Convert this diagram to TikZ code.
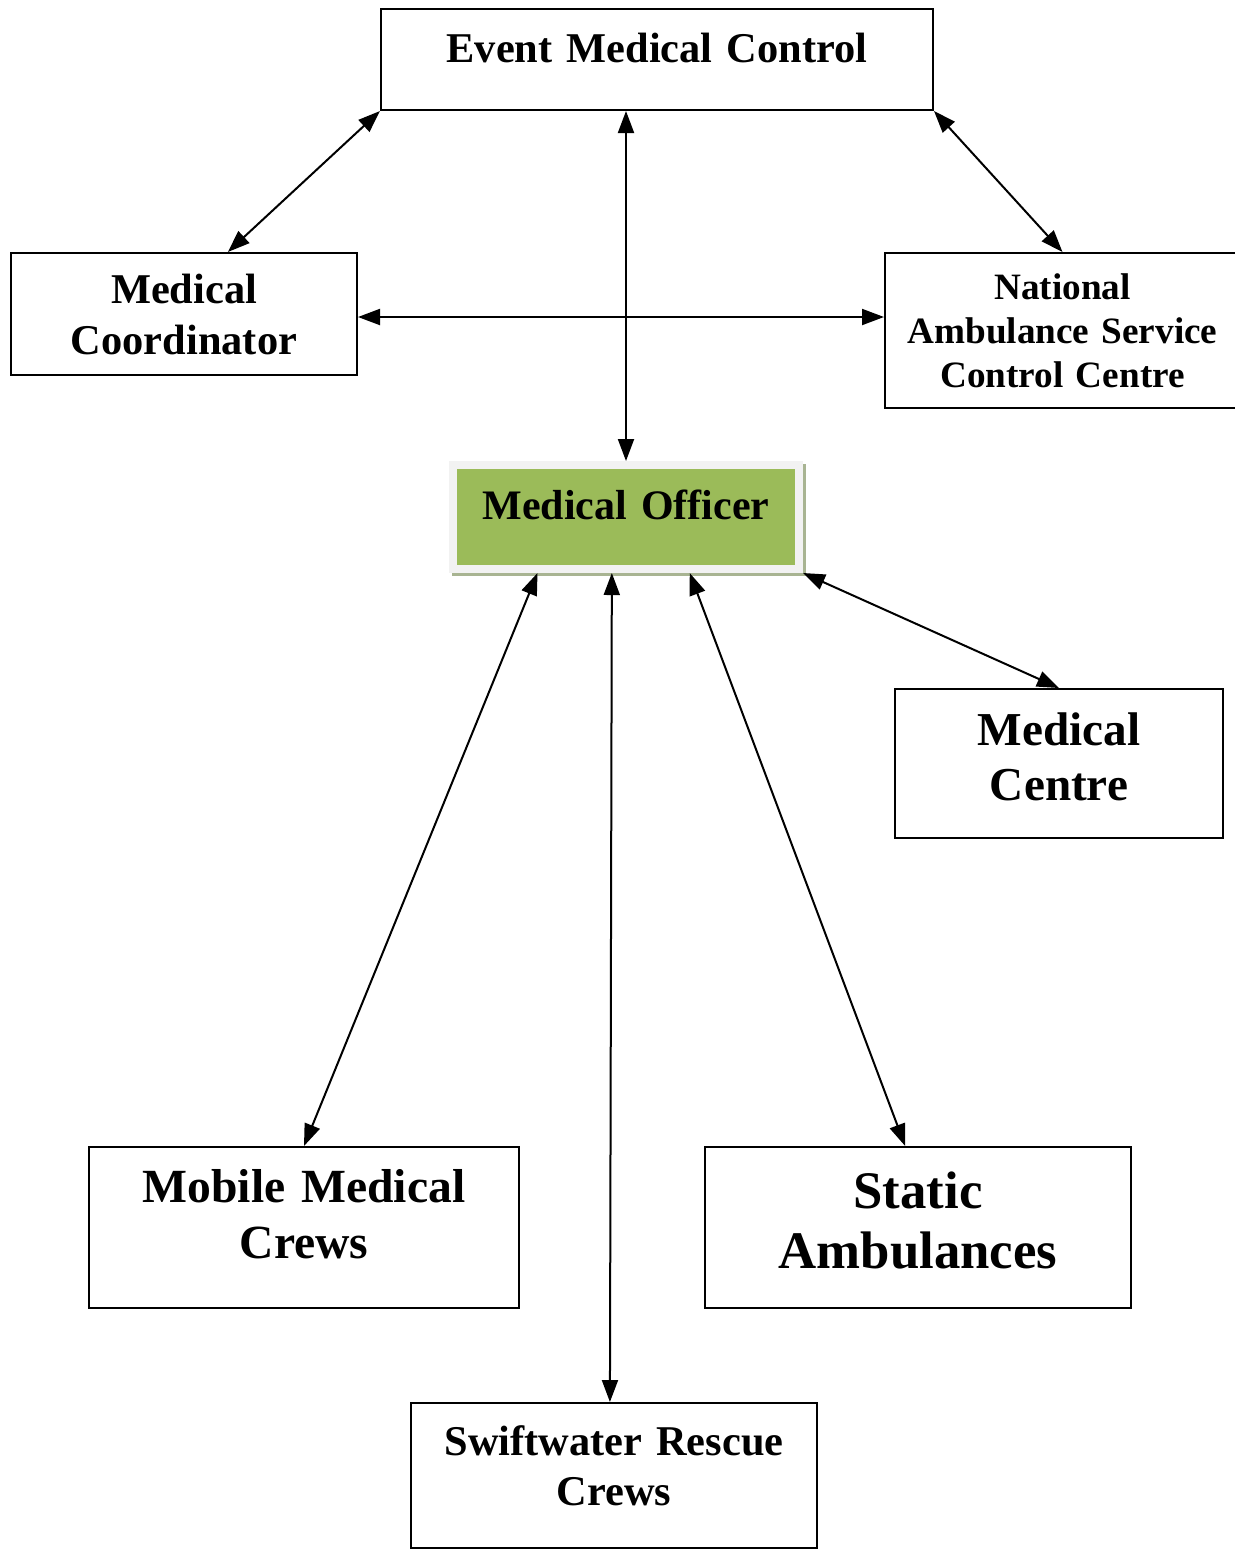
\documentclass[tikz,border=0pt]{standalone}
\usepackage{fontspec}
\setmainfont{Liberation Serif}[WordSpace=0.8]
\usetikzlibrary{arrows.meta,calc,shadows}
\definecolor{mogreen}{RGB}{155,187,89}
\definecolor{moframe}{RGB}{242,242,242}
\definecolor{moshadow}{RGB}{168,180,146}
\newcommand{\textdrop}[1]{\rule[-#1]{0pt}{#1}}
\begin{document}
\begin{tikzpicture}[x=0.5pt, y=-0.5pt, line width=1pt,
  every node/.style={draw, inner sep=0pt, align=center},
  link/.style={<->, >={Triangle[length=11pt,width=8pt]}}]
\useasboundingbox (0,0) rectangle (1235,1549);
\node (emc) at (657,59.5) [minimum width=276pt, minimum height=50.5pt, text width=270pt, font=\bfseries\fontsize{21.2}{25.5}\selectfont] {Event Medical Control\textdrop{11.8pt}};
\node (coord) at (184,314) [minimum width=173pt, minimum height=61pt, text width=168pt, font=\bfseries\fontsize{21.2}{25.5}\selectfont] {Medical\\Coordinator};
\node (nas) at (1062.5,330.5) [minimum width=177.5pt, minimum height=77.5pt, text width=172pt, font=\bfseries\fontsize{18.6}{22}\selectfont] {National\\Ambulance Service\\Control Centre};
\node (mo) at (626,517) [fill=mogreen, draw=moframe, line width=4pt, minimum width=173pt, minimum height=52pt, text width=165pt, font=\bfseries\fontsize{21}{25}\selectfont,
  drop shadow={shadow xshift=1.5pt, shadow yshift=-1.5pt, opacity=1, fill=moshadow, draw=moshadow, line width=4pt}] {Medical Officer\textdrop{12.3pt}};
\node (mcen) at (1059,763.5) [minimum width=164pt, minimum height=74.5pt, text width=158pt, font=\bfseries\fontsize{23.6}{27.5}\selectfont] {Medical\\Centre\textdrop{7pt}};
\node (mob) at (304,1227.5) [minimum width=215pt, minimum height=80.5pt, text width=208pt, font=\bfseries\fontsize{23.8}{28}\selectfont] {Mobile Medical\\Crews\textdrop{13.7pt}};
\node (stat) at (918,1227.5) [minimum width=213pt, minimum height=80.5pt, text width=206pt, font=\bfseries\fontsize{26.4}{30}\selectfont] {Static\\Ambulances\textdrop{7.5pt}};
\node (swift) at (614,1475.5) [minimum width=203pt, minimum height=72.5pt, text width=197pt, font=\bfseries\fontsize{21.2}{25}\selectfont] {Swiftwater Rescue\\Crews\textdrop{9.9pt}};
\draw[link] (emc.south west) -- ($(coord.north west)!0.626!(coord.north east)$);
\draw[link] (mo.north |- emc.south) -- (mo.north);
\draw[link] (emc.south east) -- (nas.north);
\draw[link] ($(coord.east)+(0,3)$) -- ($(coord.east -| nas.west)+(0,3)$);
\draw[link] ($(mo.south west)!0.25!(mo.south east)$) -- (mob.north);
\draw[link] ($(mo.south west)!0.46!(mo.south east)$) -- ($(swift.north west)!0.49!(swift.north east)$);
\draw[link] ($(mo.south west)!0.68!(mo.south east)$) -- ($(stat.north west)!0.47!(stat.north east)$);
\draw[link] (mo.south east) -- (mcen.north);
\end{tikzpicture}
\end{document}
